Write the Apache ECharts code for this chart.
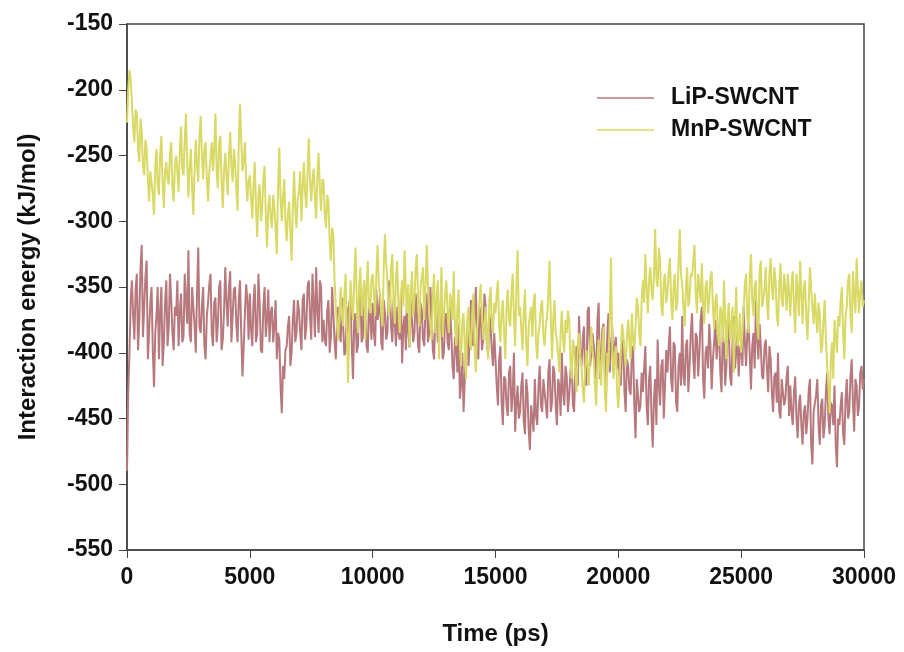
<!DOCTYPE html>
<html>
<head>
<meta charset="utf-8">
<script src="https://cdn.jsdelivr.net/npm/echarts@6/dist/echarts.min.js"></script>
<style>
html,body{margin:0;padding:0;background:#fff;}
#chart{width:904px;height:652px;}
</style>
</head>
<body>
<div id="chart"></div>
<script>
// Sampling step of the time axis (ps)
const timeStep = 100;
const xTicks = [0, 5000, 10000, 15000, 20000, 25000, 30000];
const yTicks = [-150, -200, -250, -300, -350, -400, -450, -500, -550];
const seriesNames = ['LiP-SWCNT', 'MnP-SWCNT'];

// LiP-SWCNT (kJ/mol) at t = 0, 100, 200 ... 30000 ps
const lipValues = [
-490,-400,-345,-390,-340,-375,-318,-365,-330,-385,
-350,-426,-372,-405,-350,-392,-345,-380,-360,-398,
-372,-395,-355,-388,-360,-322,-392,-365,-400,-320,
-385,-350,-405,-362,-340,-395,-358,-378,-345,-390,
-335,-380,-338,-372,-350,-392,-345,-418,-370,-360,
-355,-395,-348,-385,-362,-400,-350,-375,-392,-365,
-380,-405,-390,-446,-420,-395,-372,-400,-360,-385,
-368,-398,-355,-380,-345,-390,-362,-335,-385,-350,
-375,-395,-360,-388,-370,-405,-365,-392,-380,-398,
-385,-358,-420,-370,-395,-350,-388,-365,-400,-372,
-362,-395,-375,-355,-398,-370,-385,-350,-392,-378,
-365,-390,-408,-372,-352,-396,-360,-385,-370,-400,
-368,-395,-355,-385,-375,-405,-362,-390,-378,-400,
-370,-398,-385,-420,-395,-378,-425,-445,-400,-410,
-360,-395,-350,-405,-372,-390,-365,-400,-380,-410,
-405,-440,-395,-455,-420,-448,-410,-432,-460,-425,
-445,-415,-462,-430,-474,-440,-420,-455,-410,-445,
-420,-450,-405,-438,-415,-455,-425,-400,-440,-418,
-432,-405,-445,-395,-372,-410,-380,-425,-365,-400,
-385,-420,-362,-405,-378,-430,-370,-395,-415,-388,
-400,-425,-390,-445,-410,-432,-395,-465,-420,-440,
-430,-395,-455,-410,-472,-420,-390,-440,-405,-425,
-415,-380,-430,-395,-445,-400,-372,-425,-390,-410,
-370,-420,-388,-400,-365,-435,-395,-378,-428,-392,
-405,-380,-430,-395,-410,-385,-425,-372,-400,-418,
-392,-365,-410,-378,-428,-385,-360,-405,-395,-420,
-390,-430,-405,-445,-415,-400,-450,-420,-435,-410,
-425,-455,-418,-465,-432,-470,-440,-450,-420,-485,
-445,-420,-470,-435,-455,-415,-462,-440,-425,-487,
-455,-430,-470,-420,-445,-405,-460,-425,-440,-410,
-420
];

// LiP-SWCNT (kJ/mol) at t = 50, 150, 250 ... 29950 ps
const lipMidValues = [
-430,-360,-372,-352,-398,-335,-388,-342,-405,-362,
-398,-385,-350,-368,-410,-362,-395,-340,-385,-365,
-345,-368,-392,-340,-378,-385,-350,-378,-355,-380,
-365,-395,-372,-348,-385,-362,-392,-350,-398,-368,
-362,-350,-392,-352,-378,-360,-385,-395,-348,-390,
-382,-360,-392,-340,-398,-365,-388,-352,-370,-392,
-360,-385,-425,-410,-398,-380,-410,-375,-392,-360,
-385,-360,-390,-350,-372,-340,-388,-368,-345,-392,
-390,-368,-400,-350,-392,-378,-385,-358,-402,-365,
-362,-395,-375,-400,-355,-392,-345,-395,-362,-390,
-385,-352,-368,-392,-360,-390,-345,-380,-360,-395,
-385,-355,-380,-398,-385,-360,-392,-355,-395,-362,
-390,-365,-392,-350,-398,-370,-392,-365,-405,-372,
-392,-365,-410,-388,-415,-435,-400,-420,-380,-390,
-390,-370,-392,-365,-398,-355,-395,-370,-398,-385,
-425,-405,-438,-418,-440,-415,-445,-400,-438,-450,
-425,-452,-420,-458,-440,-460,-448,-425,-440,-420,
-440,-415,-445,-410,-440,-420,-448,-430,-410,-445,
-415,-440,-410,-425,-400,-390,-420,-368,-410,-385,
-405,-375,-420,-382,-410,-385,-415,-380,-395,-412,
-418,-395,-430,-405,-428,-400,-440,-420,-445,-415,
-412,-440,-420,-448,-435,-455,-425,-410,-450,-398,
-395,-420,-392,-438,-410,-425,-418,-395,-430,-385,
-405,-385,-418,-375,-420,-400,-412,-395,-405,-375,
-392,-415,-385,-425,-375,-418,-390,-412,-385,-398,
-410,-392,-385,-402,-395,-412,-390,-378,-418,-395,
-412,-395,-430,-418,-438,-445,-420,-440,-418,-448,
-445,-430,-450,-440,-455,-445,-462,-428,-470,-445,
-432,-455,-440,-465,-430,-450,-438,-455,-470,-450,
-440,-462,-435,-450,-418,-438,-420,-448,-415,-428
];

// MnP-SWCNT (kJ/mol) at t = 0, 100, 200 ... 30000 ps
const mnpValues = [
-225,-185,-210,-240,-218,-255,-232,-265,-245,-285,
-262,-295,-245,-280,-235,-290,-255,-272,-240,-285,
-250,-278,-228,-265,-218,-282,-245,-295,-238,-270,
-220,-268,-240,-285,-252,-262,-218,-275,-235,-290,
-248,-280,-232,-270,-255,-292,-211,-262,-240,-285,
-265,-298,-255,-312,-272,-290,-258,-320,-280,-305,
-290,-325,-244,-300,-268,-315,-285,-330,-262,-305,
-278,-300,-255,-290,-237,-285,-260,-298,-248,-292,
-270,-305,-285,-330,-310,-365,-390,-350,-380,-340,
-423,-345,-375,-320,-385,-335,-360,-390,-330,-370,
-340,-372,-318,-355,-380,-310,-345,-365,-325,-378,
-330,-385,-345,-322,-370,-395,-338,-360,-325,-380,
-350,-375,-318,-368,-390,-340,-362,-405,-335,-372,
-345,-385,-360,-338,-395,-352,-410,-370,-420,-365,
-398,-355,-415,-372,-348,-390,-365,-405,-350,-385,
-370,-345,-392,-360,-405,-352,-380,-340,-395,-322,
-365,-398,-352,-410,-372,-388,-355,-405,-378,-360,
-395,-372,-330,-405,-360,-390,-415,-368,-400,-385,
-375,-420,-395,-430,-385,-410,-438,-398,-425,-380,
-405,-440,-390,-425,-380,-445,-410,-328,-420,-395,
-442,-400,-385,-410,-375,-405,-390,-380,-365,-395,
-345,-325,-370,-335,-360,-306,-350,-330,-372,-340,
-355,-328,-375,-340,-362,-306,-348,-380,-335,-358,
-342,-318,-370,-350,-332,-378,-345,-360,-338,-382,
-355,-395,-370,-345,-405,-362,-380,-415,-350,-390,
-400,-368,-340,-385,-325,-372,-345,-390,-330,-360,
-335,-375,-328,-360,-345,-380,-332,-365,-350,-340,
-372,-338,-385,-352,-330,-378,-345,-390,-335,-365,
-355,-385,-370,-395,-360,-410,-446,-392,-375,-400,
-380,-350,-405,-365,-340,-385,-355,-328,-370,-345,
-360
];

// MnP-SWCNT (kJ/mol) at t = 50, 150, 250 ... 29950 ps
const mnpMidValues = [
-200,-192,-228,-215,-245,-222,-258,-238,-268,-262,
-280,-258,-272,-250,-270,-262,-268,-248,-275,-258,
-262,-245,-260,-238,-255,-258,-275,-262,-258,-235,
-250,-245,-268,-262,-240,-245,-262,-240,-270,-262,
-265,-250,-258,-245,-275,-240,-238,-255,-268,-270,
-282,-272,-290,-280,-300,-268,-295,-290,-298,-280,
-305,-275,-282,-282,-300,-295,-308,-290,-290,-282,
-262,-275,-278,-262,-270,-268,-282,-265,-275,-268,
-295,-280,-315,-305,-345,-380,-368,-372,-355,-385,
-378,-362,-345,-358,-350,-372,-345,-352,-365,-345,
-355,-340,-348,-370,-335,-332,-372,-335,-360,-342,
-365,-355,-365,-350,-348,-355,-372,-335,-360,-350,
-335,-352,-348,-380,-355,-385,-345,-365,-388,-355,
-370,-355,-375,-380,-365,-395,-375,-395,-375,-392,
-370,-395,-382,-360,-372,-378,-392,-360,-375,-362,
-355,-380,-368,-385,-365,-375,-355,-372,-350,-372,
-382,-370,-392,-380,-365,-362,-392,-385,-365,-388,
-380,-355,-372,-375,-385,-402,-385,-390,-375,-368,
-405,-390,-415,-395,-402,-428,-412,-410,-395,-400,
-425,-405,-412,-395,-430,-400,-375,-392,-402,-430,
-418,-378,-400,-388,-392,-370,-398,-358,-385,-360,
-362,-350,-345,-352,-340,-345,-320,-365,-345,-362,
-338,-360,-350,-368,-332,-340,-365,-352,-365,-340,
-330,-355,-340,-362,-365,-350,-370,-342,-365,-360,
-385,-365,-392,-375,-372,-390,-365,-378,-395,-370,
-385,-348,-372,-342,-360,-350,-378,-338,-365,-352,
-362,-340,-352,-335,-372,-348,-360,-340,-368,-355,
-348,-365,-340,-372,-355,-350,-372,-362,-352,-378,
-372,-362,-400,-375,-390,-425,-405,-420,-388,-372,
-360,-385,-372,-345,-372,-338,-370,-352,-352,-365
];

const lipColor = '#b7797d';
const mnpColor = '#d9d965';

// Interleave the on-step and half-step readings into [time, value] pairs
function toPairs(main, mid) {
  const out = [];
  for (let i = 0; i < main.length; i++) {
    out.push([i * timeStep, main[i]]);
    if (i < mid.length) out.push([i * timeStep + timeStep / 2, mid[i]]);
  }
  return out;
}

const chart = echarts.init(document.getElementById('chart'), null, {renderer: 'canvas'});
const font = '"Liberation Sans", Arial, sans-serif';
chart.setOption({
  animation: false,
  backgroundColor: '#ffffff',
  grid: {left: 127, right: 40, top: 24, bottom: 102, show: true, borderColor: '#444', borderWidth: 1.5, backgroundColor: 'transparent'},
  legend: {
    orient: 'vertical', left: 592, top: 81, itemGap: 8,
    icon: 'rect', itemWidth: 57, itemHeight: 1.5,
    data: seriesNames,
    textStyle: {fontFamily: font, fontSize: 23, fontWeight: 'bold', color: '#111', padding: [0, 0, 0, 12], lineHeight: 24}
  },
  xAxis: {
    type: 'value', min: xTicks[0], max: xTicks[xTicks.length - 1], interval: 5000,
    name: 'Time (ps)', nameLocation: 'middle', nameGap: 72,
    nameTextStyle: {fontFamily: font, fontSize: 24, fontWeight: 'bold', color: '#111'},
    axisLine: {show: true, lineStyle: {color: '#444', width: 1.5}},
    axisTick: {show: true, inside: false, length: 8, lineStyle: {color: '#444', width: 1}},
    axisLabel: {fontFamily: font, fontSize: 23, fontWeight: 'bold', color: '#111', margin: 16,
                formatter: function (v) { return String(v); }},
    splitLine: {show: false}
  },
  yAxis: {
    type: 'value', min: yTicks[yTicks.length - 1], max: yTicks[0], interval: 50,
    name: 'Interaction energy (kJ/mol)', nameLocation: 'middle', nameGap: 87, nameRotate: 90,
    nameTextStyle: {fontFamily: font, fontSize: 24, fontWeight: 'bold', color: '#111'},
    axisLine: {show: true, lineStyle: {color: '#444', width: 1.5}},
    axisTick: {show: true, inside: false, length: 8, lineStyle: {color: '#444', width: 1}},
    axisLabel: {fontFamily: font, fontSize: 23, fontWeight: 'bold', color: '#111', margin: 14,
                formatter: function (v) { return String(v); }},
    splitLine: {show: false}
  },
  series: [
    {name: seriesNames[0], type: 'line', data: toPairs(lipValues, lipMidValues), showSymbol: false, symbol: 'none',
     sampling: null, lineStyle: {color: lipColor, width: 2}, itemStyle: {color: lipColor}},
    {name: seriesNames[1], type: 'line', data: toPairs(mnpValues, mnpMidValues), showSymbol: false, symbol: 'none',
     sampling: null, lineStyle: {color: mnpColor, width: 2}, itemStyle: {color: mnpColor}}
  ]
});
</script>
</body>
</html>
